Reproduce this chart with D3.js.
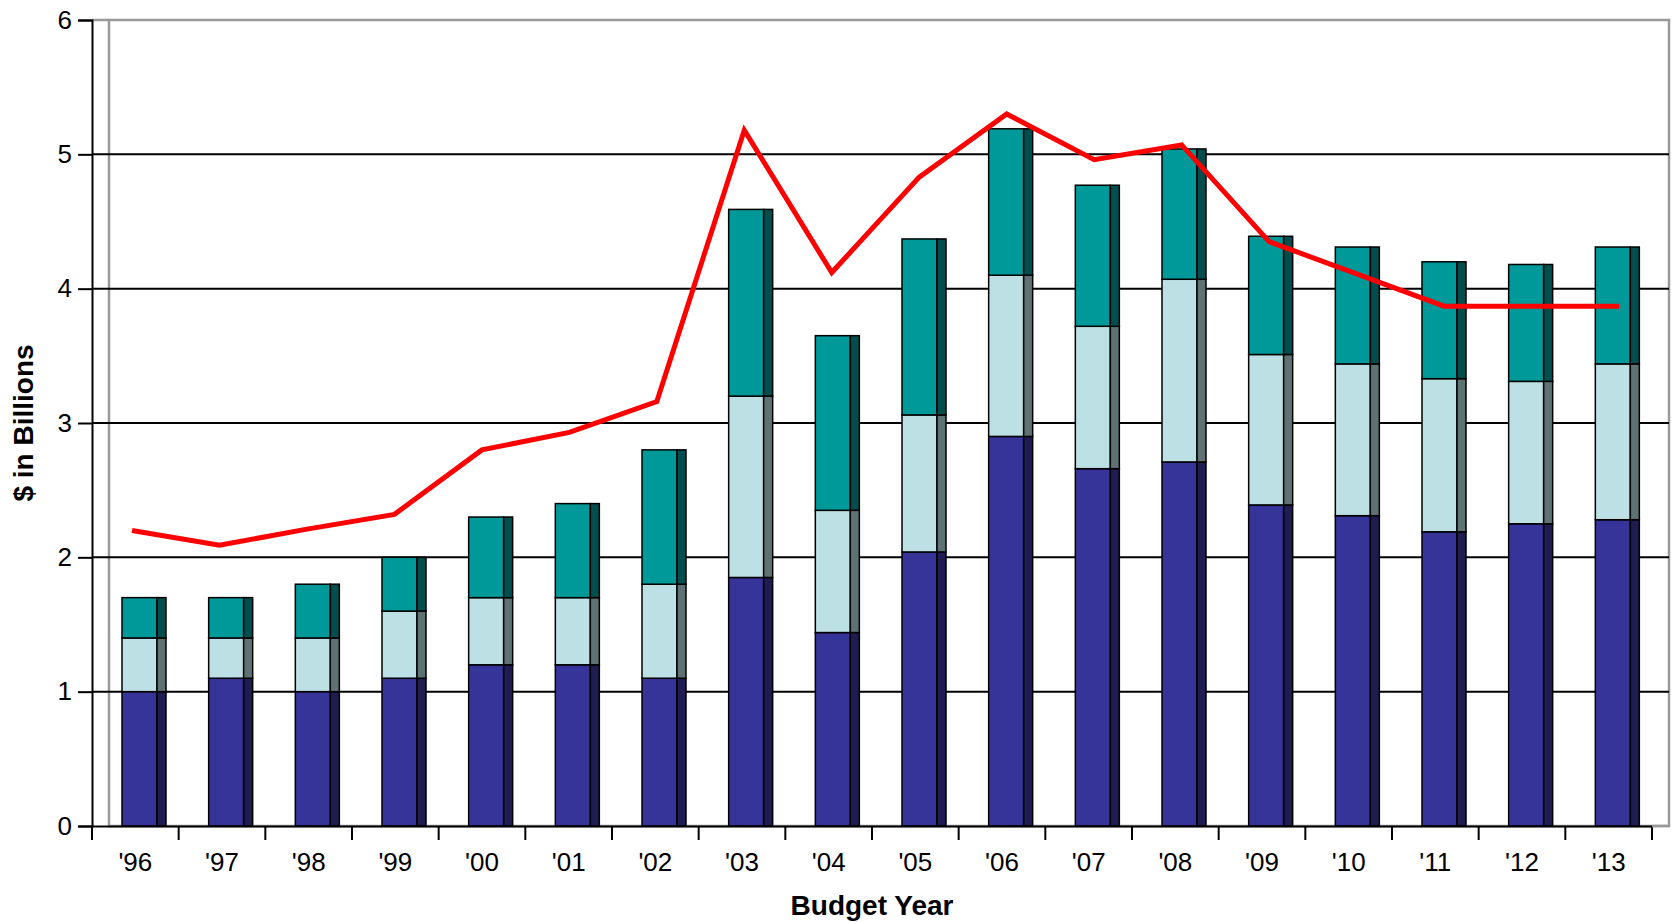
<!DOCTYPE html>
<html>
<head>
<meta charset="utf-8">
<title>Budget by year</title>
<style>
  body { margin: 0; background: #fff; }
  svg { display: block; font-family: "Liberation Sans", Arial, sans-serif; }
</style>
</head>
<body>
<svg width="1675" height="922"></svg>
<script src="https://d3js.org/d3.v7.min.js"></script>
<script>

// data ($ in billions)
var years = ["'96", "'97", "'98", "'99", "'00", "'01", "'02", "'03", "'04",
             "'05", "'06", "'07", "'08", "'09", "'10", "'11", "'12", "'13"];
var lower  = [1.00, 1.10, 1.00, 1.10, 1.20, 1.20, 1.10, 1.85, 1.44, 2.04, 2.90, 2.66, 2.71, 2.39, 2.31, 2.19, 2.25, 2.28];
var middle = [0.40, 0.30, 0.40, 0.50, 0.50, 0.50, 0.70, 1.35, 0.91, 1.02, 1.20, 1.06, 1.36, 1.12, 1.13, 1.14, 1.06, 1.16];
var upper  = [0.30, 0.30, 0.40, 0.40, 0.60, 0.70, 1.00, 1.39, 1.30, 1.31, 1.09, 1.05, 0.97, 0.88, 0.87, 0.87, 0.87, 0.87];
var total  = [2.20, 2.09, 2.21, 2.32, 2.80, 2.93, 3.16, 5.18, 4.12, 4.83, 5.30, 4.96, 5.07, 4.35, 4.11, 3.87, 3.87, 3.87];
var yTicks = [0, 1, 2, 3, 4, 5, 6];

var svg = d3.select("svg");
var margin = {top: 20, left: 92},
    plotW = 1560,
    plotH = 806,
    depth = 17;

var rows = years.map(function(y, i) {
    return {year: y, lower: lower[i], middle: middle[i], upper: upper[i]};
});
var keys = ["lower", "middle", "upper"];
var front = {lower: "#363399", middle: "#bce0e3", upper: "#009999"};
var side  = {lower: "#1e1c50", middle: "#5f7273", upper: "#024d4d"};

var x = d3.scaleBand().domain(years).range([margin.left, margin.left + plotW]);
var y = d3.scaleLinear().domain([0, 6]).range([margin.top + plotH, margin.top]);
// the line sits a little deeper in the 3-D box than the bar fronts
var xLine = d3.scalePoint().domain(years).range([margin.left + 40, margin.left + plotW + depth - 50]);

// back wall
svg.append("rect")
    .attr("x", margin.left + depth).attr("y", margin.top)
    .attr("width", plotW).attr("height", plotH)
    .attr("fill", "none").attr("stroke", "#999").attr("stroke-width", 2.5);

// gridlines
svg.append("g").selectAll("line")
    .data(yTicks.filter(function(d) { return d > 0 && d < 6; }))
    .enter().append("line")
        .attr("x1", margin.left).attr("x2", margin.left + plotW + depth)
        .attr("y1", function(d) { return y(d); })
        .attr("y2", function(d) { return y(d); })
        .attr("stroke", "#000").attr("stroke-width", 2);
svg.append("line")
    .attr("x1", margin.left).attr("x2", margin.left + depth)
    .attr("y1", y(6)).attr("y2", y(6))
    .attr("stroke", "#999").attr("stroke-width", 2.5);

// stacked bars with a shaded side face
var stacked = d3.stack().keys(keys)(rows);
var barOff = 30, barW = 35, sideW = 9;

var layers = svg.append("g").selectAll("g")
    .data(stacked)
    .enter().append("g");

layers.selectAll("rect.front")
    .data(function(d) { return d.map(function(p) { p.key = d.key; return p; }); })
    .enter().append("rect")
        .attr("class", "front")
        .attr("x", function(d) { return x(d.data.year) + barOff; })
        .attr("y", function(d) { return y(d[1]); })
        .attr("width", barW)
        .attr("height", function(d) { return y(d[0]) - y(d[1]); })
        .attr("fill", function(d) { return front[d.key]; })
        .attr("stroke", "#000").attr("stroke-width", 1.5);

layers.selectAll("rect.side")
    .data(function(d) { return d; })
    .enter().append("rect")
        .attr("class", "side")
        .attr("x", function(d) { return x(d.data.year) + barOff + barW; })
        .attr("y", function(d) { return y(d[1]); })
        .attr("width", sideW)
        .attr("height", function(d) { return y(d[0]) - y(d[1]); })
        .attr("fill", function(d) { return side[d.key]; })
        .attr("stroke", "#000").attr("stroke-width", 1.5);

// axes
var yAxis = svg.append("g")
    .attr("transform", "translate(" + margin.left + ",0)")
    .call(d3.axisLeft(y).tickValues(yTicks).tickSize(14).tickPadding(6).tickFormat(d3.format("d")));
yAxis.select(".domain").attr("stroke-width", 2);
yAxis.selectAll(".tick line").attr("stroke-width", 2);
yAxis.selectAll("text").attr("font-size", 26).attr("fill", "#000");

var xAxis = svg.append("g")
    .attr("transform", "translate(0," + y(0) + ")")
    .call(d3.axisBottom(x).tickSize(14).tickSizeOuter(0).tickPadding(13));
xAxis.select(".domain").attr("stroke-width", 2);
xAxis.selectAll(".tick line")
    .attr("x1", x.bandwidth() / 2).attr("x2", x.bandwidth() / 2)
    .attr("stroke-width", 2);
xAxis.append("line")
    .attr("x1", margin.left).attr("x2", margin.left).attr("y1", 0).attr("y2", 14)
    .attr("stroke", "#000").attr("stroke-width", 2);
xAxis.selectAll("text").attr("font-size", 26).attr("fill", "#000");
svg.append("line")
    .attr("x1", margin.left + plotW).attr("x2", margin.left + plotW + depth)
    .attr("y1", y(0)).attr("y2", y(0))
    .attr("stroke", "#999").attr("stroke-width", 2.5);

// total line
svg.append("path")
    .datum(total)
    .attr("fill", "none")
    .attr("stroke", "#ff0000")
    .attr("stroke-width", 5)
    .attr("d", d3.line()
        .x(function(d, i) { return xLine(years[i]); })
        .y(function(d) { return y(d); }));

// axis titles
svg.append("text")
    .attr("x", margin.left + plotW / 2).attr("y", 915)
    .attr("text-anchor", "middle")
    .attr("font-size", 28).attr("font-weight", "bold")
    .text("Budget Year");

svg.append("text")
    .attr("transform", "translate(33," + (margin.top + plotH / 2) + ") rotate(-90)")
    .attr("text-anchor", "middle")
    .attr("font-size", 28).attr("font-weight", "bold")
    .text("$ in Billions");

</script>
</body>
</html>
